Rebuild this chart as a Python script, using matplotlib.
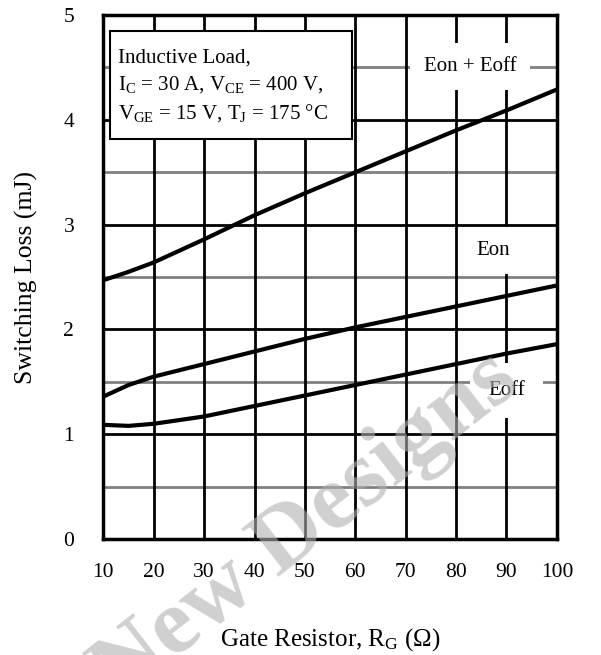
import matplotlib
matplotlib.use("Agg")
from matplotlib import pyplot as plt
from matplotlib.patches import Rectangle
import numpy as np

plt.rcParams['font.family'] = ['Liberation Serif', 'DejaVu Serif']
plt.rcParams['mathtext.fontset'] = 'custom'
plt.rcParams['mathtext.rm'] = 'Liberation Serif'
plt.rcParams['mathtext.it'] = 'Liberation Serif:italic'

# gate resistor (ohm) and switching losses (mJ)
rg = [10, 15, 20, 30, 40, 50, 60, 70, 80, 90, 100]
e_total = [2.47, 2.55, 2.64, 2.86, 3.09, 3.30, 3.50, 3.70, 3.90, 4.09, 4.29]
e_on = [1.36, 1.47, 1.55, 1.67, 1.79, 1.91, 2.02, 2.12, 2.22, 2.32, 2.42]
e_off = [1.09, 1.08, 1.10, 1.17, 1.27, 1.37, 1.47, 1.57, 1.67, 1.77, 1.86]

x_ticks = [10, 20, 30, 40, 50, 60, 70, 80, 90, 100]
y_ticks = [0, 1, 2, 3, 4, 5]

cond_lines = ['Inductive Load,',
              r'I$_\mathrm{C}$ = 30 A, V$_\mathrm{CE}$ = 400 V,',
              r'V$_\mathrm{GE}$ = 15 V, T$_\mathrm{J}$ = 175 °C']

fig = plt.figure(figsize=(6.01, 6.55), dpi=100)
ax = fig.add_axes([0.172, 0.177, 0.7546, 0.80])

# grid: black majors, grey half-steps
for y in np.arange(0.5, 5, 1.0):
    ax.axhline(y, color='#808080', lw=2, zorder=1)
for y in y_ticks[1:-1]:
    ax.axhline(y, color='black', lw=2, zorder=1)
for x in x_ticks[1:-1]:
    ax.axvline(x, color='black', lw=2, zorder=1)

for ys in (e_total, e_on, e_off):
    ax.plot(rg, ys, color='black', lw=3, zorder=3, solid_capstyle='butt')

ax.set_xlim(10, 100)
ax.set_ylim(0, 5)
ax.set_xticks(x_ticks)
ax.set_yticks(y_ticks)
ax.tick_params(length=0, labelsize=15.5)
ax.tick_params(axis='x', pad=17)
ax.tick_params(axis='y', pad=21)
for s in ax.spines.values():
    s.set_linewidth(2.5)

ax.set_xlabel(r'Gate Resistor, R$_\mathrm{G}$ ($\Omega$)', fontsize=18, labelpad=32)
ax.set_ylabel('Switching Loss (mJ)', fontsize=18.5, labelpad=18)

lab = dict(fontsize=15, ha='center', va='center', zorder=4,
           bbox=dict(facecolor='white', edgecolor='none', pad=10))
ax.text(82.8, 4.51, 'Eon + Eoff', **lab)
ax.text(87.3, 2.75, 'Eon', **lab)
lab['bbox'] = dict(facecolor='white', edgecolor='none', pad=13)
ax.text(90.1, 1.42, 'Eoff', **lab)

# conditions box
ax.add_patch(Rectangle((11.3, 3.82), 48.0, 1.03, facecolor='white',
                       edgecolor='black', lw=1.5, zorder=5))
for yb, line in zip([4.545, 4.29, 4.015], cond_lines):
    ax.text(12.9, yb, line, fontsize=15, ha='left', va='baseline', zorder=6)

# faint watermark
fig.text(0.51, 0.195, 'New Designs', fontsize=68, fontweight='bold',
         color='#b0b0b0', alpha=0.6, rotation=38, ha='center', va='center',
         zorder=10)

fig.savefig('out.png', dpi=100)
